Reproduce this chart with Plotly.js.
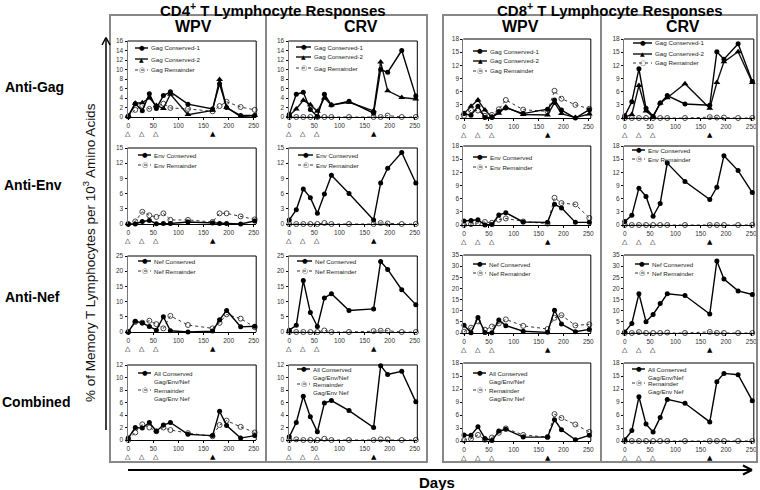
<!DOCTYPE html>
<html><head><meta charset="utf-8">
<script src="https://cdn.plot.ly/plotly-3.0.1.min.js"></script>
<style>html,body{margin:0;padding:0;background:#fff}</style>
</head><body><div id="chart" style="width:760px;height:490px"></div>
<script>
// ---------------- DATA ----------------
const days = [0, 14, 28, 42, 56, 70, 84, 119, 168, 182, 196, 224, 252];
const xTicks = [0, 50, 100, 150, 200, 250];
const vaccineDays = [0, 28, 56];
const challengeDays = [168];

const groupTitles = ['CD4<sup>+</sup> T Lymphocyte Responses', 'CD8<sup>+</sup> T Lymphocyte Responses'];
const columnTitles = ['WPV', 'CRV', 'WPV', 'CRV'];
const rowTitles = ['Anti-Gag', 'Anti-Env', 'Anti-Nef', 'Combined'];
const yTitle = '% of Memory T Lymphocytes per 10<sup>3</sup> Amino Acids';
const xTitle = 'Days';

const gagNames = ['Gag Conserved-1', 'Gag Conserved-2', 'Gag Remainder'];
const envNames = ['Env Conserved', 'Env Remainder'];
const nefNames = ['Nef Conserved', 'Nef Remainder'];
const combNames = ['All Conserved<br>Gag/Env/Nef', 'Remainder<br>Gag/Env Nef'];

// CD4 WPV
const cd4WpvGagCons1 = [0.1, 2.8, 1.3, 4.9, 1.8, 4.5, 5.3, 2.7, 1.7, 7.0, 2.0, 0.3, 0.3];
const cd4WpvGagCons2 = [0.2, 2.9, 3.0, 4.0, 2.4, 1.8, 4.8, 0.5, 1.4, 7.9, 2.0, 0.1, 0.3];
const cd4WpvGagRem   = [0.1, 1.5, 2.4, 1.7, 2.2, 2.8, 1.9, 1.7, 1.2, 2.3, 3.2, 2.1, 1.5];
const cd4WpvEnvCons  = [0.0, 0.0, 0.5, 0.7, 0.05, 0.1, 0.1, 0.4, 0.2, 0.1, 0.1, 0.0, 0.6];
const cd4WpvEnvRem   = [0.0, 0.5, 2.4, 1.7, 1.4, 2.1, 0.8, 0.8, 0.4, 2.1, 2.1, 1.5, 0.9];
const cd4WpvNefCons  = [0.0, 3.5, 3.0, 1.8, 0.6, 5.0, 0.4, 0.0, 0.3, 4.0, 7.1, 1.7, 1.9];
const cd4WpvNefRem   = [0.0, 3.3, 3.1, 3.7, 2.6, 1.2, 5.3, 2.3, 1.2, 3.0, 5.8, 4.4, 1.6];
const cd4WpvAllCons  = [0.3, 2.0, 1.9, 2.8, 1.4, 2.4, 2.8, 0.9, 0.7, 4.6, 2.3, 0.3, 0.7];
const cd4WpvAllRem   = [0.0, 1.2, 2.5, 2.0, 1.4, 2.0, 1.6, 1.1, 0.6, 2.4, 3.1, 2.1, 1.2];
// CD4 CRV
const cd4CrvGagCons1 = [0.5, 4.8, 5.2, 1.6, 0.1, 4.8, 2.5, 3.3, 0.8, 10.0, 9.4, 14.0, 4.4];
const cd4CrvGagCons2 = [0.3, 1.7, 3.5, 2.6, 1.2, 4.0, 2.5, 3.1, 1.3, 11.6, 5.5, 4.1, 3.8];
const cd4CrvGagRem   = [0.0, 0.0, 0.0, 0.0, 0.0, 0.0, 0.0, 0.0, 0.0, 0.0, 0.3, 0.0, 0.0];
const cd4CrvEnvCons  = [0.8, 2.8, 6.9, 5.2, 2.1, 5.9, 9.6, 6.0, 0.8, 8.1, 11.0, 14.1, 8.1];
const cd4CrvEnvRem   = [0.0, 0.0, 0.0, 0.0, 0.0, 0.2, 0.0, 0.0, 0.0, 0.2, 0.1, 0.0, 0.0];
const cd4CrvNefCons  = [0.6, 2.2, 16.9, 6.4, 1.8, 11.2, 12.6, 7.1, 7.6, 23.2, 20.6, 13.9, 9.0];
const cd4CrvNefRem   = [0.0, 0.0, 0.0, 0.0, 0.0, 0.5, 0.0, 0.0, 0.3, 0.4, 0.4, 0.0, 0.0];
const cd4CrvAllCons  = [0.5, 2.8, 7.0, 3.7, 1.3, 5.9, 6.3, 4.7, 2.0, 11.9, 10.5, 11.0, 6.1];
const cd4CrvAllRem   = [0.0, 0.1, 0.0, 0.0, 0.0, 0.2, 0.0, 0.0, 0.0, 0.1, 0.1, 0.0, 0.0];
// CD8 WPV
const cd8WpvGagCons1 = [1.0, 0.6, 2.7, 0.1, 0.1, 1.5, 2.3, 1.0, 2.0, 4.1, 1.8, 0.0, 1.9];
const cd8WpvGagCons2 = [1.0, 2.7, 4.1, 1.8, 0.2, 1.1, 2.5, 0.8, 0.7, 3.5, 1.0, 0.1, 0.9];
const cd8WpvGagRem   = [0.5, 1.8, 1.7, 0.5, 0.7, 2.0, 4.1, 1.9, 1.5, 6.2, 4.4, 3.0, 2.1];
const cd8WpvEnvCons  = [0.9, 1.0, 1.2, 0.0, 0.1, 2.3, 2.8, 0.7, 0.6, 4.7, 3.9, 0.6, 0.6];
const cd8WpvEnvRem   = [0.0, 0.2, 0.4, 0.7, 0.5, 1.2, 1.5, 0.8, 0.3, 6.2, 5.0, 4.7, 1.6];
const cd8WpvNefCons  = [3.5, 0.1, 7.0, 0.2, 0.1, 5.8, 3.3, 0.8, 0.3, 10.2, 4.0, 0.6, 1.6];
const cd8WpvNefRem   = [0.6, 2.4, 5.2, 1.5, 2.9, 4.3, 6.1, 3.2, 1.8, 6.8, 8.0, 3.4, 3.9];
const cd8WpvAllCons  = [1.4, 1.3, 3.3, 0.6, 0.1, 2.3, 2.7, 0.9, 0.9, 4.9, 2.6, 0.3, 1.3];
const cd8WpvAllRem   = [0.2, 0.5, 1.4, 0.3, 0.8, 1.9, 2.9, 1.4, 0.9, 6.2, 5.3, 3.8, 2.1];
// CD8 CRV
const cd8CrvGagCons1 = [0.5, 3.7, 11.2, 2.2, 0.4, 3.4, 5.1, 3.2, 2.9, 15.1, 13.4, 16.9, 8.3];
const cd8CrvGagCons2 = [0.2, 0.8, 7.4, 1.6, 0.3, 3.4, 4.6, 7.8, 2.2, 8.1, 12.8, 15.1, 8.1];
const cd8CrvGagRem   = [0.0, 0.0, 0.0, 0.0, 0.0, 0.0, 0.0, 0.0, 0.2, 0.1, 0.1, 0.0, 0.0];
const cd8CrvEnvCons  = [0.8, 2.2, 8.4, 6.5, 2.0, 4.9, 14.1, 9.9, 5.8, 8.6, 15.8, 12.4, 7.4];
const cd8CrvEnvRem   = [0.0, 0.0, 0.0, 0.0, 0.0, 0.0, 0.0, 0.0, 0.0, 0.0, 0.0, 0.0, 0.0];
const cd8CrvNefCons  = [0.4, 4.3, 17.6, 5.1, 8.3, 13.2, 17.6, 16.8, 8.5, 32.3, 24.2, 18.9, 17.3];
const cd8CrvNefRem   = [0.0, 0.0, 0.4, 0.0, 0.0, 0.0, 0.2, 0.0, 0.5, 0.0, 0.0, 0.0, 0.0];
const cd8CrvAllCons  = [0.3, 2.4, 10.2, 3.9, 2.1, 5.4, 9.6, 8.7, 4.4, 13.7, 15.6, 15.3, 9.3];
const cd8CrvAllRem   = [0.0, 0.0, 0.0, 0.0, 0.0, 0.0, 0.0, 0.0, 0.0, 0.0, 0.0, 0.0, 0.0];

const yMaxCD4 = [16, 15, 25, 12], dtickCD4 = [2, 3, 5, 2];
const yMaxCD8 = [18, 18, 35, 18], dtickCD8 = [3, 3, 5, 3];

// ---------------- BUILD ----------------
const W = 760, H = 490;
const px = x => x / W, py = y => 1 - y / H;
const FONT = 'Liberation Sans, Arial, sans-serif';
const SYM = 'DejaVu Sans, sans-serif';

const seriesSets = [
  [
    [[cd4WpvGagCons1, cd4WpvGagCons2, cd4WpvGagRem], gagNames, ['c1','c2','rem']],
    [[cd4CrvGagCons1, cd4CrvGagCons2, cd4CrvGagRem], gagNames, ['c1','c2','rem']],
    [[cd8WpvGagCons1, cd8WpvGagCons2, cd8WpvGagRem], gagNames, ['c1','c2','rem']],
    [[cd8CrvGagCons1, cd8CrvGagCons2, cd8CrvGagRem], gagNames, ['c1','c2','rem']]
  ],
  [
    [[cd4WpvEnvCons, cd4WpvEnvRem], envNames, ['c1','rem']],
    [[cd4CrvEnvCons, cd4CrvEnvRem], envNames, ['c1','rem']],
    [[cd8WpvEnvCons, cd8WpvEnvRem], envNames, ['c1','rem']],
    [[cd8CrvEnvCons, cd8CrvEnvRem], envNames, ['c1','rem']]
  ],
  [
    [[cd4WpvNefCons, cd4WpvNefRem], nefNames, ['c1','rem']],
    [[cd4CrvNefCons, cd4CrvNefRem], nefNames, ['c1','rem']],
    [[cd8WpvNefCons, cd8WpvNefRem], nefNames, ['c1','rem']],
    [[cd8CrvNefCons, cd8CrvNefRem], nefNames, ['c1','rem']]
  ],
  [
    [[cd4WpvAllCons, cd4WpvAllRem], combNames, ['c1','rem']],
    [[cd4CrvAllCons, cd4CrvAllRem], combNames, ['c1','rem']],
    [[cd8WpvAllCons, cd8WpvAllRem], combNames, ['c1','rem']],
    [[cd8CrvAllCons, cd8CrvAllRem], combNames, ['c1','rem']]
  ]
];

// layout geometry (pixels)
const colX = [[127.5, 256.2], [288.5, 417.3], [463.3, 590.8], [624, 753.8]];
const rowYcd4 = [[41, 117], [148, 224], [256, 332], [365, 440]];
const rowYcd8 = [[39, 118], [146, 225], [255, 333], [363, 441]];
const legendPos = [
  [{sx:135,tx:150,ys:[48,59,70]},{sx:296,tx:313,ys:[47,57,68]},{sx:473,tx:489,ys:[51,61,71]},{sx:633,tx:654,ys:[43,54,63]}],
  [{sx:138,tx:153,ys:[155,165]},{sx:298,tx:315,ys:[155,165]},{sx:473,tx:489,ys:[157,167]},{sx:632,tx:647,ys:[150,159]}],
  [{sx:138,tx:153,ys:[261,271]},{sx:297,tx:314,ys:[261,271]},{sx:473,tx:488,ys:[264,273]},{sx:635,tx:651,ys:[264,273]}],
  [{sx:138,tx:153,ys:[373,390]},{sx:297,tx:312,ys:[369,384]},{sx:473,tx:488,ys:[373,390]},{sx:632,tx:647,ys:[369,383]}]
];

const styles = {
  c1:  {line:{color:'#000', width:1.4}, marker:{symbol:'circle', size:5, color:'#000'}, glyph:'●', gsize:6.5},
  c2:  {line:{color:'#111', width:1.4}, marker:{symbol:'triangle-up', size:6, color:'#000'}, glyph:'▲', gsize:6},
  rem: {line:{color:'#333', width:1, dash:'dot'}, marker:{symbol:'circle-open', size:5, color:'#444', line:{width:1, color:'#444'}}, glyph:'○', gsize:7}
};

const traces = [];
const layout = {
  width: W, height: H, margin: {l:0, r:0, t:0, b:0},
  paper_bgcolor: '#fff', plot_bgcolor: 'rgba(0,0,0,0)',
  showlegend: false, font: {family: FONT, color: '#222'},
  annotations: [], shapes: []
};
const ann = layout.annotations, shp = layout.shapes;

for (let r = 0; r < 4; r++) {
  for (let c = 0; c < 4; c++) {
    const i = r * 4 + c + 1;
    const sfx = i === 1 ? '' : String(i);
    const xid = 'x' + sfx, yid = 'y' + sfx;
    const isCD4 = c < 2;
    const [yt, yb] = (isCD4 ? rowYcd4 : rowYcd8)[r];
    const [x0, x1] = colX[c];
    const yMax = (isCD4 ? yMaxCD4 : yMaxCD8)[r];
    const dt = (isCD4 ? dtickCD4 : dtickCD8)[r];
    const h = yb - yt;

    layout['xaxis' + sfx] = {
      domain: [px(x0), px(x1)], range: [-1.5, 255], anchor: yid,
      tickvals: xTicks, ticks: 'outside', ticklen: 2, tickcolor: '#000', tickwidth: 1,
      showline: true, linecolor: '#000', linewidth: 1, showgrid: false, zeroline: false,
      tickfont: {size: 6.5, color: '#333', family: FONT}, fixedrange: true
    };
    layout['yaxis' + sfx] = {
      domain: [py(yb), py(yt)], range: [0, yMax], dtick: dt, tick0: 0, anchor: xid,
      ticks: 'outside', ticklen: 2, tickcolor: '#000', tickwidth: 1,
      showline: true, linecolor: '#777', linewidth: 1, showgrid: false, zeroline: false,
      tickfont: {size: 6.5, color: '#333', family: FONT}, fixedrange: true
    };
    shp.push({type:'line', xref: xid + ' domain', yref: yid + ' domain', x0:0, x1:1, y0:1, y1:1, line:{color:'#000', width:1}});
    shp.push({type:'line', xref: xid + ' domain', yref: yid + ' domain', x0:1, x1:1, y0:0, y1:1, line:{color:'#000', width:1}});

    const [vals, names, kinds] = seriesSets[r][c];
    for (let k = vals.length - 1; k >= 0; k--) {
      const st = styles[kinds[k]];
      traces.push({
        type: 'scatter', mode: 'lines+markers', x: days, y: vals[k], name: names[k],
        xaxis: xid, yaxis: yid, line: st.line, marker: st.marker, cliponaxis: false, hoverinfo: 'skip'
      });
    }
    const lp = legendPos[r][c];
    for (let k = 0; k < vals.length; k++) {
      const st = styles[kinds[k]];
      const y = lp.ys[k];
      const ex = lp.tx - 2;
      shp.push({type:'line', xref:'paper', yref:'paper', x0: px(lp.sx), x1: px(ex), y0: py(y), y1: py(y),
        line:{color: st.line.color, width: st.line.width, dash: st.line.dash || 'solid'}});
      ann.push({xref:'paper', yref:'paper', x: px((lp.sx + ex) / 2), y: py(y), xanchor:'center', yanchor:'middle',
        text: st.glyph, showarrow:false, borderpad:0, font:{size: st.gsize, family:SYM, color: kinds[k] === 'rem' ? '#444' : '#000'}});
      const twoLine = names[k].indexOf('<br>') >= 0;
      ann.push({xref:'paper', yref:'paper', x: px(lp.tx), y: py(twoLine ? y - 4.5 : y), xanchor:'left',
        yanchor: twoLine ? 'top' : 'middle', align:'left',
        text: names[k], showarrow:false, borderpad:0, font:{size:6.2, family:FONT, color:'#222'}});
    }
    vaccineDays.forEach(d => ann.push({xref: xid, yref: yid + ' domain', x: d, y: -17 / h,
      xanchor:'center', yanchor:'middle',
      text:'△', showarrow:false, borderpad:0, font:{size:7, family:SYM, color:'#000'}}));
    challengeDays.forEach(d => ann.push({xref: xid, yref: yid + ' domain', x: d, y: -17 / h,
      xanchor:'center', yanchor:'middle',
      text:'▲', showarrow:false, borderpad:0, font:{size:7, family:SYM, color:'#000'}}));
  }
}

[[110, 427, 266], [443, 757, 601]].forEach(([a, b, m]) => {
  shp.push({type:'rect', xref:'paper', yref:'paper', x0:px(a), x1:px(b), y0:py(462), y1:py(15), line:{color:'#888', width:2}});
  shp.push({type:'line', xref:'paper', yref:'paper', x0:px(m), x1:px(m), y0:py(462), y1:py(15), line:{color:'#888', width:2}});
});

const bold = s => '<b>' + s + '</b>';
const label = (x, y, text, size, extra) => ann.push(Object.assign({xref:'paper', yref:'paper', x: px(x), y: py(y),
  text, showarrow:false, xanchor:'center', yanchor:'middle', borderpad:0,
  font:{size, family:FONT, color:'#000'}}, extra || {}));

label(273, 9, bold(groupTitles[0]), 15);
label(610, 9, bold(groupTitles[1]), 15);
[193, 361, 520, 683].forEach((x, k) => label(x, 27, bold(columnTitles[k]), 16));
[[34, 87], [33, 185], [32, 297], [36, 402]].forEach(([x, y], k) => label(x, y, bold(rowTitles[k]), 14));
label(89, 253, yTitle, 13.5, {textangle: -90, font:{size:13.5, family:FONT, color:'#111'}});
label(437, 482, bold(xTitle), 15);

const seg = (xa, ya, xb, yb, w) => shp.push({type:'line', xref:'paper', yref:'paper',
  x0: px(xa), y0: py(ya), x1: px(xb), y1: py(yb), line:{color:'#000', width:w}});
seg(106, 430, 106, 38, 1.5);
seg(102, 45, 106, 37.5, 1.5); seg(110, 45, 106, 37.5, 1.5);
seg(128, 470, 751, 470, 2);
seg(743, 465.5, 752, 470, 2); seg(743, 474.5, 752, 470, 2);

Plotly.newPlot('chart', traces, layout, {displayModeBar:false, staticPlot:true});
</script>
</body></html>
